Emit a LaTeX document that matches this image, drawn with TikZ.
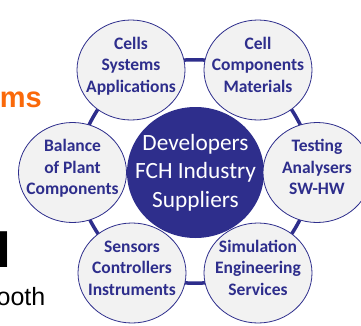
\documentclass[tikz,border=0pt]{standalone}
\usepackage{fontspec}
\setmainfont{Carlito}
\newfontfamily\slidefont{Liberation Sans}
\usetikzlibrary{shapes.geometric,backgrounds}
\definecolor{fchblue}{RGB}{46,46,140}
\definecolor{bubblegray}{RGB}{242,242,242}
\definecolor{slideorange}{RGB}{250,105,10}

\begin{document}
\begin{tikzpicture}[x=1pt,y=1pt,
  bubble/.style={ellipse,draw=fchblue,line width=0.8pt,fill=bubblegray,
    minimum width=108pt,minimum height=100pt,inner xsep=-10pt,inner ysep=0pt,
    text height=52.8pt,text depth=8pt,
    align=center,text=fchblue,font=\fontsize{17.5}{21.7}\selectfont\bfseries},
  hub/.style={ellipse,fill=fchblue,minimum width=137pt,minimum height=131pt,
    inner xsep=-14pt,inner ysep=0pt,align=center,text=white,
    font=\fontsize{23.3}{28.4}\selectfont},
  ring/.style={draw=fchblue,line width=3.5pt,bend left=16},
  fragment/.style={inner sep=0pt}]
\useasboundingbox (0,0) rectangle (361,325);
\clip (0,0) rectangle (361,325);
\node[fragment,anchor=base east,text=slideorange,font=\slidefont\fontsize{29}{29}\selectfont\bfseries] (ms) at ( 42 , 217.3 ) {ms};
\node[fragment,anchor=base east,font=\slidefont\fontsize{52}{52}\selectfont\bfseries] (bigh) at ( 11 , 58 ) {H};
\node[fragment,anchor=base west,font=\slidefont\fontsize{25}{25}\selectfont] (booth) at ( -3.6 , 20 ) {ooth};
\node[hub] (fch) at ( 195.5 , 152.5 ) {Developers\\FCH Industry\\Suppliers};
\node[bubble] (cells) at ( 131 , 255 ) {Cells\\Systems\\Applications};
\node[bubble] (parts) at ( 258 , 255 ) {Cell\\Components\\Materials};
\node[bubble] (testing) at ( 317 , 152.5 ) {Testing\\Analysers\\SW-HW};
\node[bubble] (simulation) at ( 258 , 52 ) {Simulation\\Engineering\\Services};
\node[bubble] (sensors) at ( 132 , 52 ) {Sensors\\Controllers\\Instruments};
\node[bubble] (bop) at ( 72.5 , 152.5 ) {Balance\\of Plant\\Components};
\begin{scope}[on background layer]
\draw[ring] (cells.center) to (parts.center);
\draw[ring] (parts.center) to (testing.center);
\draw[ring] (testing.center) to (simulation.center);
\draw[ring] (simulation.center) to (sensors.center);
\draw[ring] (sensors.center) to (bop.center);
\draw[ring] (bop.center) to (cells.center);
\end{scope}
\end{tikzpicture}
\end{document}
